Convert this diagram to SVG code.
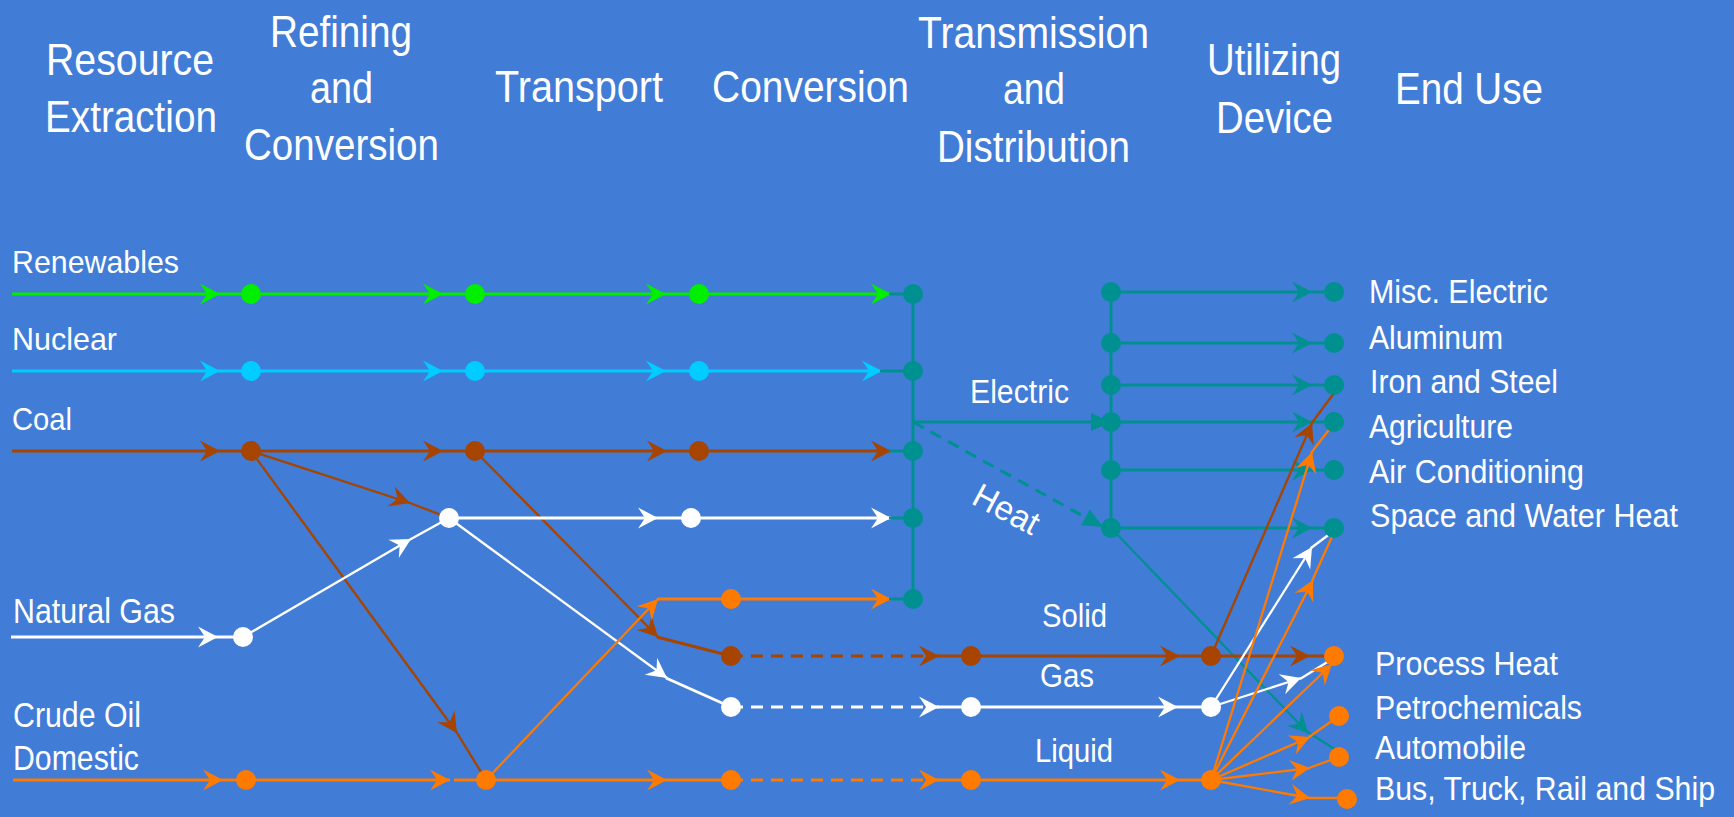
<svg xmlns="http://www.w3.org/2000/svg" width="1734" height="817" viewBox="0 0 1734 817">
<style>
.t{font-family:"Liberation Sans",Arial,sans-serif;fill:#fff}
.h{font-size:45px}
.l{font-size:32px}
.l2{font-size:35px}
.e{font-size:34px}
.ln{fill:none;stroke-width:3}
.th{fill:none;stroke-width:2.3}
.g{stroke:#00EE00}.c{stroke:#00CCFF}.b{stroke:#A64400}.w{stroke:#FFFFFF}.o{stroke:#FF7A00}.tl{stroke:#009090}
.d{stroke-dasharray:12 8}
.fg{fill:#00EE00}.fc{fill:#00CCFF}.fb{fill:#A64400}.fw{fill:#FFFFFF}.fo{fill:#FF7A00}.ft{fill:#009090}
</style>
<defs>
<marker id="aG" viewBox="-21 -11 22 22" refX="0" refY="0" markerWidth="22" markerHeight="22" markerUnits="userSpaceOnUse" orient="auto"><path d="M0,0 L-20,-10.5 L-13,0 L-20,10.5 Z" fill="#00EE00"/></marker>
<marker id="aC" viewBox="-21 -11 22 22" refX="0" refY="0" markerWidth="22" markerHeight="22" markerUnits="userSpaceOnUse" orient="auto"><path d="M0,0 L-20,-10.5 L-13,0 L-20,10.5 Z" fill="#00CCFF"/></marker>
<marker id="aB" viewBox="-21 -11 22 22" refX="0" refY="0" markerWidth="22" markerHeight="22" markerUnits="userSpaceOnUse" orient="auto"><path d="M0,0 L-20,-10.5 L-13,0 L-20,10.5 Z" fill="#A64400"/></marker>
<marker id="aW" viewBox="-21 -11 22 22" refX="0" refY="0" markerWidth="22" markerHeight="22" markerUnits="userSpaceOnUse" orient="auto"><path d="M0,0 L-20,-10.5 L-13,0 L-20,10.5 Z" fill="#FFFFFF"/></marker>
<marker id="aO" viewBox="-21 -11 22 22" refX="0" refY="0" markerWidth="22" markerHeight="22" markerUnits="userSpaceOnUse" orient="auto"><path d="M0,0 L-20,-10.5 L-13,0 L-20,10.5 Z" fill="#FF7A00"/></marker>
<marker id="aT" viewBox="-21 -11 22 22" refX="0" refY="0" markerWidth="22" markerHeight="22" markerUnits="userSpaceOnUse" orient="auto"><path d="M0,0 L-20,-10.5 L-13,0 L-20,10.5 Z" fill="#009090"/></marker>
<marker id="tT" viewBox="-21 -10 22 20" refX="0" refY="0" markerWidth="22" markerHeight="20" markerUnits="userSpaceOnUse" orient="auto"><path d="M0,0 L-20,-9 L-20,9 Z" fill="#009090"/></marker>
</defs>
<rect width="1734" height="817" fill="#417CD7"/>

<g id="headers">
<g id="h-resource"><text class="t h" x="46" y="75" textLength="168" lengthAdjust="spacingAndGlyphs">Resource</text><text class="t h" x="45" y="132" textLength="172" lengthAdjust="spacingAndGlyphs">Extraction</text></g>
<g id="h-refining"><text class="t h" x="270" y="47" textLength="142" lengthAdjust="spacingAndGlyphs">Refining</text><text class="t h" x="310" y="103" textLength="63" lengthAdjust="spacingAndGlyphs">and</text><text class="t h" x="244" y="160" textLength="195" lengthAdjust="spacingAndGlyphs">Conversion</text></g>
<g id="h-transport"><text class="t h" x="495" y="102" textLength="168" lengthAdjust="spacingAndGlyphs">Transport</text></g>
<g id="h-conversion"><text class="t h" x="712" y="102" textLength="197" lengthAdjust="spacingAndGlyphs">Conversion</text></g>
<g id="h-transmission"><text class="t h" x="918" y="48" textLength="231" lengthAdjust="spacingAndGlyphs">Transmission</text><text class="t h" x="1003" y="104" textLength="62" lengthAdjust="spacingAndGlyphs">and</text><text class="t h" x="937" y="162" textLength="193" lengthAdjust="spacingAndGlyphs">Distribution</text></g>
<g id="h-utilizing"><text class="t h" x="1207" y="75" textLength="134" lengthAdjust="spacingAndGlyphs">Utilizing</text><text class="t h" x="1216" y="133" textLength="117" lengthAdjust="spacingAndGlyphs">Device</text></g>
<g id="h-enduse"><text class="t h" x="1395" y="104" textLength="148" lengthAdjust="spacingAndGlyphs">End Use</text></g>
</g>

<g id="connectors">
<path class="ln g" d="M12,294 L220,294 L251,294" marker-mid="url(#aG)"/>
<path class="ln g" d="M251,294 L443,294 L475,294" marker-mid="url(#aG)"/>
<path class="ln g" d="M475,294 L666,294 L699,294" marker-mid="url(#aG)"/>
<path class="ln g" d="M699,294 L891,294" marker-end="url(#aG)"/>
<path class="ln tl" d="M889,294 L913,294"/>
<path class="ln c" d="M12,371 L220,371 L251,371" marker-mid="url(#aC)"/>
<path class="ln c" d="M251,371 L443,371 L475,371" marker-mid="url(#aC)"/>
<path class="ln c" d="M475,371 L666,371 L699,371" marker-mid="url(#aC)"/>
<path class="ln c" d="M699,371 L882,371" marker-end="url(#aC)"/>
<path class="ln tl" d="M880,371 L913,371"/>
<path class="ln b" d="M12,451 L220,451 L251,451" marker-mid="url(#aB)"/>
<path class="ln b" d="M251,451 L443,451 L475,451" marker-mid="url(#aB)"/>
<path class="ln b" d="M475,451 L667,451 L699,451" marker-mid="url(#aB)"/>
<path class="ln b" d="M699,451 L891,451" marker-end="url(#aB)"/>
<path class="ln tl" d="M889,451 L913,451"/>
<path class="th b" d="M251,451 L410,503 L449,518" marker-mid="url(#aB)"/>
<path class="th b" d="M251,451 L457,733 L486,780" marker-mid="url(#aB)"/>
<path class="th b" d="M475,451 L658,637" marker-end="url(#aB)"/>
<path class="ln b" d="M657,637 L731,656"/>
<path class="ln w" d="M11,637 L218,637 L243,637" marker-mid="url(#aW)"/>
<path class="th w" d="M243,637 L411,539 L449,518" marker-mid="url(#aW)"/>
<path class="ln w" d="M449,518 L658,518 L691,518" marker-mid="url(#aW)"/>
<path class="ln w" d="M691,518 L891,518" marker-end="url(#aW)"/>
<path class="ln tl" d="M889,518 L913,518"/>
<path class="th w" d="M449,518 L667,678" marker-end="url(#aW)"/>
<path class="ln w" d="M666,678 L731,707"/>
<path class="ln o" d="M13,780 L223,780 L246,780" marker-mid="url(#aO)"/>
<path class="ln o" d="M246,780 L450,780" marker-end="url(#aO)"/>
<path class="ln o" d="M454,780 L486,780"/>
<path class="th o" d="M486,780 L658,599" marker-end="url(#aO)"/>
<path class="ln o" d="M657,599 L731,599"/>
<path class="ln o" d="M731,599 L891,599" marker-end="url(#aO)"/>
<path class="ln tl" d="M889,599 L913,599"/>
<path class="ln o" d="M486,780 L667,780 L731,780" marker-mid="url(#aO)"/>
<path class="ln tl" d="M913,294 L913,599"/>
<path class="ln tl" d="M913,422 L1111,422" marker-end="url(#tT)"/>
<path class="ln tl d" d="M913,422 L1103,527" marker-end="url(#tT)" stroke-dasharray="10 7"/>
<path class="ln b d" d="M731,656 L939,656" marker-end="url(#aB)"/>
<path class="ln b" d="M937,656 L971,656"/>
<path class="ln b" d="M971,656 L1180,656 L1211,656" marker-mid="url(#aB)"/>
<path class="ln w d" d="M731,707 L939,707" marker-end="url(#aW)"/>
<path class="ln w" d="M937,707 L971,707"/>
<path class="ln w" d="M971,707 L1178,707 L1211,707" marker-mid="url(#aW)"/>
<path class="ln o d" d="M731,780 L939,780" marker-end="url(#aO)"/>
<path class="ln o" d="M937,780 L971,780"/>
<path class="ln o" d="M971,780 L1180,780 L1211,780" marker-mid="url(#aO)"/>
<path class="ln tl" d="M1111,292 L1111,528"/>
<path class="ln tl" d="M1111,292 L1312,292 L1334,292" marker-mid="url(#aT)"/>
<path class="ln tl" d="M1111,343 L1312,343 L1334,343" marker-mid="url(#aT)"/>
<path class="ln tl" d="M1111,385 L1312,385 L1334,385" marker-mid="url(#aT)"/>
<path class="ln tl" d="M1111,422 L1312,422 L1334,422" marker-mid="url(#aT)"/>
<path class="ln tl" d="M1111,470 L1312,470 L1334,470" marker-mid="url(#aT)"/>
<path class="ln tl" d="M1111,528 L1312,528 L1334,528" marker-mid="url(#aT)"/>
<path class="th tl" d="M1111,528 L1308,733" marker-end="url(#aT)"/>
<path class="th tl" d="M1306,731 L1349,758"/>
<path class="th b" d="M1211,656 L1312,423" marker-end="url(#aB)"/>
<path class="th b" d="M1311,424 L1340,385"/>
<path class="ln b" d="M1211,656 L1310,656 L1334,656" marker-mid="url(#aB)"/>
<path class="th w" d="M1211,707 L1312,547" marker-end="url(#aW)"/>
<path class="th w" d="M1311,548 L1335,530"/>
<path class="th w" d="M1211,707 L1301,678" marker-end="url(#aW)"/>
<path class="th w" d="M1300,679 L1329,661"/>
<path class="th o" d="M1211,780 L1312,452" marker-end="url(#aO)"/>
<path class="th o" d="M1311,453 L1335,422"/>
<path class="th o" d="M1211,780 L1313,580" marker-end="url(#aO)"/>
<path class="th o" d="M1312,581 L1335,530"/>
<path class="th o" d="M1211,780 L1332,664" marker-end="url(#aO)"/>
<path class="th o" d="M1211,780 L1310,737" marker-end="url(#aO)"/>
<path class="th o" d="M1309,737 L1339,716"/>
<path class="th o" d="M1211,780 L1310,768" marker-end="url(#aO)"/>
<path class="th o" d="M1309,768 L1339,757"/>
<path class="th o" d="M1211,780 L1310,798" marker-end="url(#aO)"/>
<path class="th o" d="M1309,798 L1347,798"/>
</g>

<g id="n-renewables"><text class="t l" x="12" y="273" textLength="167" lengthAdjust="spacingAndGlyphs">Renewables</text><circle class="fg" cx="251" cy="294" r="10"/><circle class="fg" cx="475" cy="294" r="10"/><circle class="fg" cx="699" cy="294" r="10"/></g>
<g id="n-nuclear"><text class="t l" x="12" y="350" textLength="105" lengthAdjust="spacingAndGlyphs">Nuclear</text><circle class="fc" cx="251" cy="371" r="10"/><circle class="fc" cx="475" cy="371" r="10"/><circle class="fc" cx="699" cy="371" r="10"/></g>
<g id="n-coal"><text class="t l" x="12" y="430" textLength="60" lengthAdjust="spacingAndGlyphs">Coal</text><circle class="fb" cx="251" cy="451" r="10"/><circle class="fb" cx="475" cy="451" r="10"/><circle class="fb" cx="699" cy="451" r="10"/></g>
<g id="n-natgas"><text class="t l2" x="13" y="623" textLength="162" lengthAdjust="spacingAndGlyphs">Natural Gas</text><circle class="fw" cx="243" cy="637" r="10"/><circle class="fw" cx="449" cy="518" r="10"/><circle class="fw" cx="691" cy="518" r="10"/></g>
<g id="n-crude"><text class="t l2" x="13" y="727" textLength="128" lengthAdjust="spacingAndGlyphs">Crude Oil</text><text class="t l2" x="13" y="770" textLength="126" lengthAdjust="spacingAndGlyphs">Domestic</text><circle class="fo" cx="246" cy="780" r="10"/><circle class="fo" cx="486" cy="780" r="10"/><circle class="fo" cx="731" cy="599" r="10"/></g>
<g id="n-conversion"><circle class="ft" cx="913" cy="294" r="10"/><circle class="ft" cx="913" cy="371" r="10"/><circle class="ft" cx="913" cy="451" r="10"/><circle class="ft" cx="913" cy="518" r="10"/><circle class="ft" cx="913" cy="599" r="10"/></g>
<g id="n-electric"><text class="t e" x="970" y="403" textLength="99" lengthAdjust="spacingAndGlyphs">Electric</text></g>
<g id="n-heat"><text class="t e" transform="translate(970,503) rotate(28)" x="0" y="0" textLength="70" lengthAdjust="spacingAndGlyphs">Heat</text></g>
<g id="n-transmission"><circle class="ft" cx="1111" cy="292" r="10"/><circle class="ft" cx="1111" cy="343" r="10"/><circle class="ft" cx="1111" cy="385" r="10"/><circle class="ft" cx="1111" cy="422" r="10"/><circle class="ft" cx="1111" cy="470" r="10"/><circle class="ft" cx="1111" cy="528" r="10"/></g>
<g id="n-solid"><text class="t e" x="1042" y="627" textLength="65" lengthAdjust="spacingAndGlyphs">Solid</text><circle class="fb" cx="731" cy="656" r="10"/><circle class="fb" cx="971" cy="656" r="10"/><circle class="fb" cx="1211" cy="656" r="10"/></g>
<g id="n-gas"><text class="t e" x="1040" y="687" textLength="54" lengthAdjust="spacingAndGlyphs">Gas</text><circle class="fw" cx="731" cy="707" r="10"/><circle class="fw" cx="971" cy="707" r="10"/><circle class="fw" cx="1211" cy="707" r="10"/></g>
<g id="n-liquid"><text class="t e" x="1035" y="762" textLength="78" lengthAdjust="spacingAndGlyphs">Liquid</text><circle class="fo" cx="731" cy="780" r="10"/><circle class="fo" cx="971" cy="780" r="10"/><circle class="fo" cx="1211" cy="780" r="10"/></g>
<g id="n-misc"><circle class="ft" cx="1334" cy="292" r="10"/><text class="t e" x="1369" y="303" textLength="179" lengthAdjust="spacingAndGlyphs">Misc. Electric</text></g>
<g id="n-aluminum"><circle class="ft" cx="1334" cy="343" r="10"/><text class="t e" x="1369" y="349" textLength="134" lengthAdjust="spacingAndGlyphs">Aluminum</text></g>
<g id="n-iron"><circle class="ft" cx="1334" cy="385" r="10"/><text class="t e" x="1370" y="393" textLength="188" lengthAdjust="spacingAndGlyphs">Iron and Steel</text></g>
<g id="n-agri"><circle class="ft" cx="1334" cy="422" r="10"/><text class="t e" x="1369" y="438" textLength="144" lengthAdjust="spacingAndGlyphs">Agriculture</text></g>
<g id="n-ac"><circle class="ft" cx="1334" cy="470" r="10"/><text class="t e" x="1369" y="483" textLength="215" lengthAdjust="spacingAndGlyphs">Air Conditioning</text></g>
<g id="n-space"><circle class="ft" cx="1334" cy="528" r="10"/><text class="t e" x="1370" y="527" textLength="308" lengthAdjust="spacingAndGlyphs">Space and Water Heat</text></g>
<g id="n-process"><circle class="fo" cx="1334" cy="656" r="10"/><text class="t e" x="1375" y="675" textLength="183" lengthAdjust="spacingAndGlyphs">Process Heat</text></g>
<g id="n-petro"><circle class="fo" cx="1339" cy="716" r="10"/><text class="t e" x="1375" y="719" textLength="207" lengthAdjust="spacingAndGlyphs">Petrochemicals</text></g>
<g id="n-auto"><circle class="fo" cx="1339" cy="757" r="10"/><text class="t e" x="1375" y="759" textLength="151" lengthAdjust="spacingAndGlyphs">Automobile</text></g>
<g id="n-bus"><circle class="fo" cx="1347" cy="799" r="10"/><text class="t e" x="1375" y="800" font-size="30" textLength="340" lengthAdjust="spacingAndGlyphs">Bus, Truck, Rail and Ship</text></g>
</svg>
